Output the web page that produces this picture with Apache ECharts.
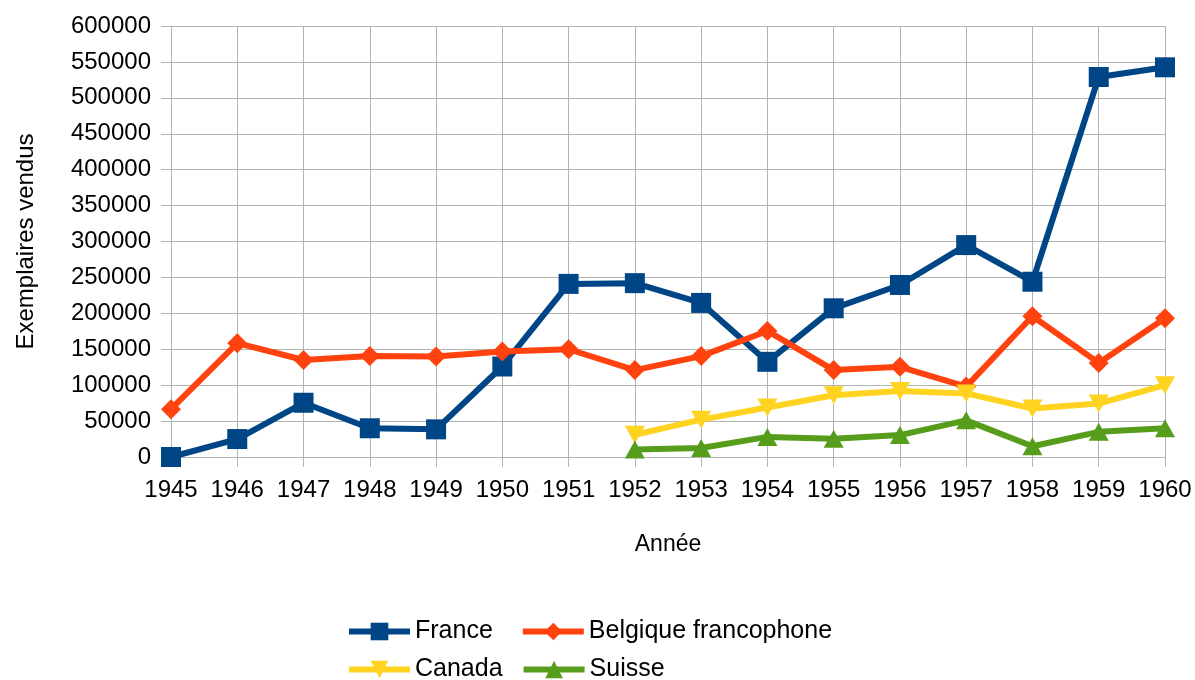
<!DOCTYPE html>
<html>
<head>
<meta charset="utf-8">
<script src="https://cdn.jsdelivr.net/npm/echarts@6/dist/echarts.min.js"></script>
<style>
html, body { margin: 0; padding: 0; background: #fff; }
#main { width: 1195px; height: 680px; }
</style>
</head>
<body>
<div id="main"></div>
<script>
var years = ['1945','1946','1947','1948','1949','1950','1951','1952','1953','1954','1955','1956','1957','1958','1959','1960'];
var france = [0, 25000, 75500, 40000, 38500, 126000, 241000, 242000, 214500, 132500, 207000, 239500, 295000, 244000, 529000, 542500];
var belgique = [66500, 158500, 135000, 140500, 140000, 147000, 150000, 121000, 140500, 175500, 121000, 125500, 98000, 196000, 131000, 193000];
var canada = [null, null, null, null, null, null, null, 31000, 52000, 69000, 86000, 92000, 88500, 67500, 74500, 100000];
var suisse = [null, null, null, null, null, null, null, 10500, 12500, 28000, 25500, 30500, 51000, 15000, 35000, 40000];

var chart = echarts.init(document.getElementById('main'));

var font = 'Liberation Sans';

function line(name, data, color, symbol, size) {
    return {
        name: name,
        type: 'line',
        data: data,
        symbol: symbol,
        symbolSize: size,
        showAllSymbol: true,
        connectNulls: false,
        lineStyle: { color: color, width: 6 },
        itemStyle: { color: color },
        emphasis: { disabled: true },
        animation: false
    };
}

var legendText = { fontSize: 25, color: '#000', fontFamily: font };

var option = {
    animation: false,
    textStyle: { fontFamily: font },
    grid: { left: 171, right: 30, top: 26, bottom: 223 },
    legend: [
        {
            left: 346, top: 619, padding: 0,
            itemWidth: 61, itemHeight: 22, itemGap: 27,
            lineStyle: { width: 6 },
            textStyle: legendText,
            data: ['France', 'Belgique francophone']
        },
        {
            left: 346, top: 657, padding: 0,
            itemWidth: 61, itemHeight: 22, itemGap: 18,
            lineStyle: { width: 6 },
            textStyle: legendText,
            data: ['Canada', 'Suisse']
        }
    ],
    xAxis: {
        type: 'category',
        data: years,
        boundaryGap: false,
        name: 'Année',
        nameLocation: 'middle',
        nameGap: 76,
        nameTextStyle: { fontSize: 23, color: '#000', fontFamily: font },
        axisLine: { lineStyle: { color: '#b3b3b3', width: 1 } },
        axisTick: { show: true, interval: 0, length: 10, lineStyle: { color: '#b3b3b3' } },
        axisLabel: { interval: 0, fontSize: 24, color: '#000', margin: 21, fontFamily: font },
        splitLine: { show: true, interval: 0, lineStyle: { color: '#b3b3b3', width: 1 } }
    },
    yAxis: {
        type: 'value',
        min: 0,
        max: 600000,
        interval: 50000,
        name: 'Exemplaires vendus',
        nameLocation: 'middle',
        nameGap: 133,
        nameTextStyle: { fontSize: 24, color: '#000', fontFamily: font },
        axisLine: { show: true, lineStyle: { color: '#b3b3b3', width: 1 } },
        axisTick: { show: true, length: 10, lineStyle: { color: '#b3b3b3' } },
        axisLabel: {
            fontSize: 24, color: '#000', margin: 20, fontFamily: font,
            formatter: function (v) { return String(v); }
        },
        splitLine: { show: true, lineStyle: { color: '#b3b3b3', width: 1 } }
    },
    series: [
        line('France', france, '#004586', 'rect', 20),
        line('Belgique francophone', belgique, '#ff420e', 'diamond', 20),
        line('Canada', canada, '#ffd320', 'path://M0,0 L10,0 L5,9 Z', [20, 18]),
        line('Suisse', suisse, '#579d1c', 'triangle', [20, 18])
    ]
};

chart.setOption(option);
</script>
</body>
</html>
